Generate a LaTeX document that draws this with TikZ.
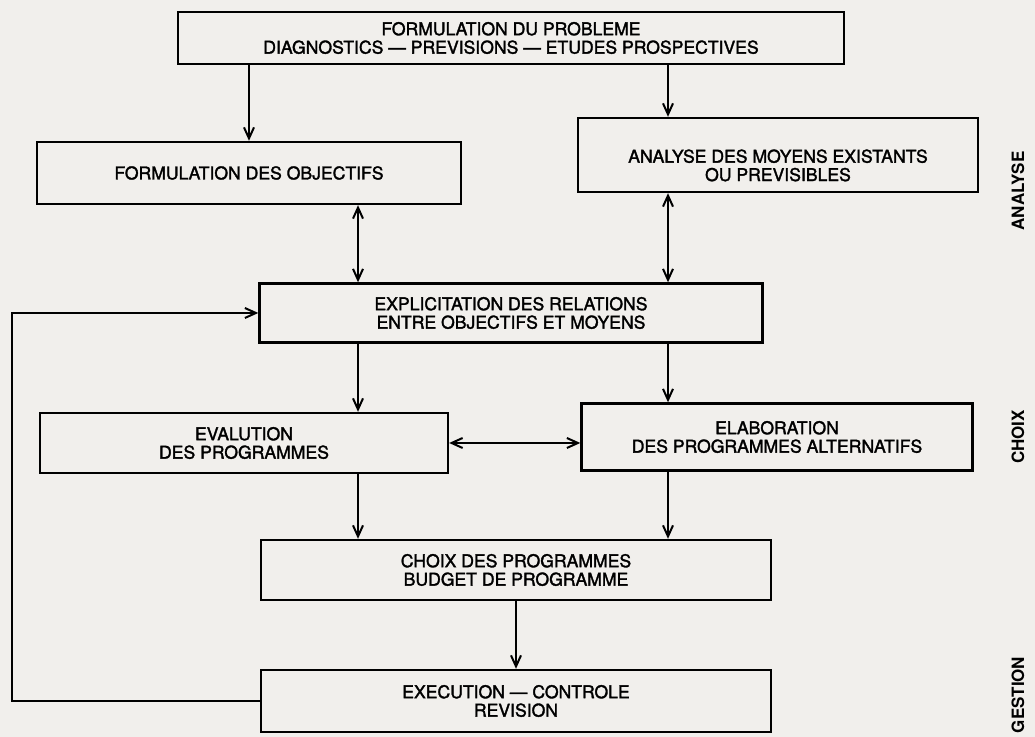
\documentclass[tikz,border=0pt]{standalone}
\usepackage{fontspec}
\setmainfont{TeX Gyre Heros}
\newfontfamily\stagefont{TeX Gyre Heros}[FakeBold=1.8]
\usepackage{tikz}
\usetikzlibrary{arrows.meta}
\definecolor{paper}{RGB}{241,239,236}
\tikzstyle{stage}=[draw,line width=1.2pt,align=center,inner sep=0pt,font=\stagefont\fontsize{8.8}{9.2}\selectfont]
\tikzstyle{flow}=[draw,line width=1pt,-{Straight Barb[length=5.5pt,width=5pt]}]
\tikzstyle{bothway}=[draw,line width=1pt,{Straight Barb[length=5.5pt,width=5pt]}-{Straight Barb[length=5.5pt,width=5pt]}]
\tikzstyle{phase}=[rotate=90,font=\bfseries\fontsize{8.5}{10}\selectfont]

\begin{document}
\begin{tikzpicture}[x=0.5pt,y=-0.5pt]
    \fill[paper] (0,0) rectangle (1035,737);
    \useasboundingbox (0,0) rectangle (1035,737);

    % First we draw the stages, top to bottom
    \node[stage,minimum width=333pt,minimum height=26pt] (probleme) at (511,38)
        {FORMULATION DU PROBLEME\\DIAGNOSTICS — PREVISIONS — ETUDES PROSPECTIVES};
    \node[stage,minimum width=212pt,minimum height=31pt] (objectifs) at (249,173)
        {FORMULATION DES OBJECTIFS};
    \node[stage,minimum width=200pt,minimum height=37pt] (moyens) at (778,155)
        {\rule{0pt}{17pt}ANALYSE DES MOYENS EXISTANTS\\OU PREVISIBLES};
    \node[stage,minimum width=251.5pt,minimum height=29.5pt] (relations) at (511,313)
        {EXPLICITATION DES RELATIONS\\ENTRE OBJECTIFS ET MOYENS};
    \node[stage,minimum width=204pt,minimum height=30pt] (evaluation) at (244,443)
        {EVALUTION\\DES PROGRAMMES};
    \node[stage,minimum width=195.5pt,minimum height=33.5pt] (alternatifs) at (777,437)
        {ELABORATION\\DES PROGRAMMES ALTERNATIFS};
    \node[stage,minimum width=255pt,minimum height=30pt] (choix) at (516,570)
        {CHOIX DES PROGRAMMES\\BUDGET DE PROGRAMME};
    \node[stage,minimum width=255pt,minimum height=31pt] (execution) at (516,701)
        {EXECUTION — CONTROLE\\REVISION};

    % the three phases on the right
    \foreach \pos/\name in {{(1018,191)/ANALYSE},{(1018,437)/CHOIX},{(1018,695)/GESTION}}
        \node[phase] (\name) at \pos {\name};

    % columns of the arrows
    \coordinate (gauche) at (358,0);
    \coordinate (droite) at (668,0);
    \coordinate (retour) at (12,0);

    % Connect stages
    \path[flow] (probleme.south -| objectifs.north) -- (objectifs.north);
    \path[flow] (probleme.south -| droite) -- (moyens.north -| droite);
    \path[bothway] (objectifs.south -| gauche) -- (relations.north -| gauche);
    \path[bothway] (moyens.south -| droite) -- (relations.north -| droite);
    \foreach \source/\dest/\col in {relations/evaluation/gauche, relations/alternatifs/droite,
                                   evaluation/choix/gauche, alternatifs/choix/droite}
        \path[flow] (\source.south -| \col) -- (\dest.north -| \col);
    \path[bothway] (evaluation.east) -- (evaluation.east -| alternatifs.west);
    \path[flow] (choix.south) -- (execution.north);

    % feedback from the execution
    \path[flow] (execution.west) -- (execution.west -| retour)
        -- (relations.west -| retour) -- (relations.west);
\end{tikzpicture}
\end{document}
